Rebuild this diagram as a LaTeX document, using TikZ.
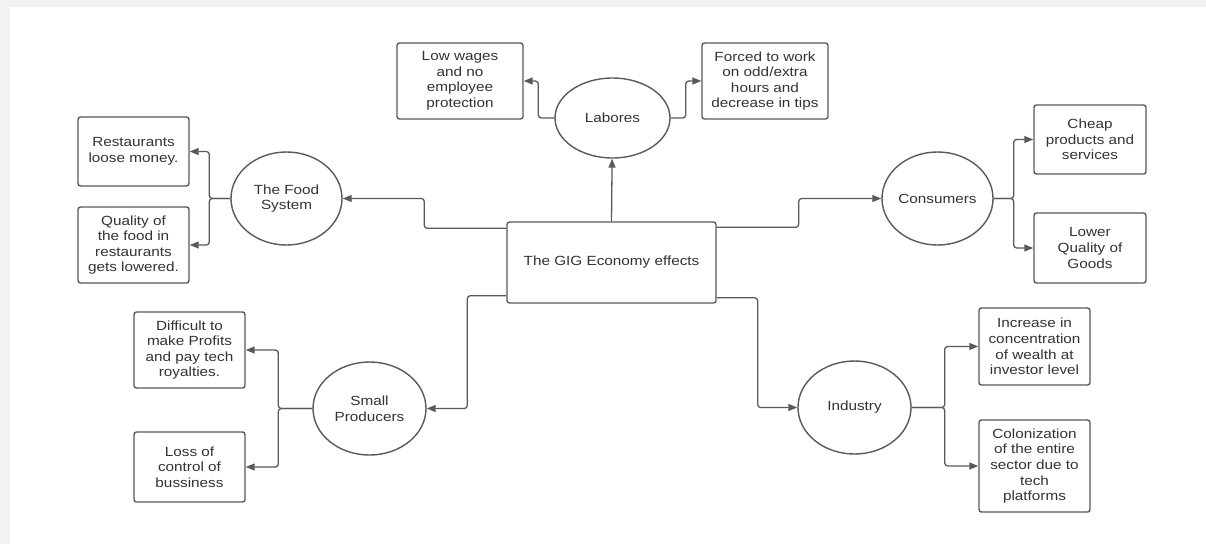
\documentclass[tikz,border=0pt]{standalone}
\usepackage{fontspec}
\setmainfont[FakeStretch=1.15]{Liberation Sans}
\usetikzlibrary{shapes.geometric,arrows.meta}
\definecolor{linegray}{HTML}{5A5A5A}
\definecolor{textgray}{HTML}{333333}
\definecolor{pagegray}{HTML}{F2F2F2}
\tikzset{
  box/.style={draw=linegray,line width=1.4pt,rounded corners=2.5pt,align=center,inner sep=2pt,text=textgray},
  circ/.style={draw=linegray,line width=1.4pt,ellipse,minimum width=113pt,minimum height=93pt,inner sep=0pt,align=center,text=textgray},
  conn/.style={draw=linegray,line width=1.3pt,rounded corners=3pt,-{Triangle[length=9pt,width=7pt]}},
}
\begin{document}
\begin{tikzpicture}[x=1pt,y=-1pt,font=\fontsize{13.3}{15.6}\selectfont]
  \fill[pagegray] (0,0) rectangle (1206,544);
  \fill[white] (10,7) rectangle (1206,544);
  \useasboundingbox (0,0) rectangle (1206,544);
  % centre
  \node[box,minimum width=209pt,minimum height=81pt](NGig) at (611.5,262.5) {The GIG Economy effects};
  % labores
  \node[circ,minimum width=115pt,minimum height=80pt](NLab) at (612.5,118) {Labores};
  \node[box,minimum width=126pt,minimum height=76pt](NLow) at (460,81) {Low wages\\and no\\employee\\protection};
  \node[box,minimum width=126pt,minimum height=76pt](NForced) at (765,81) {Forced to work\\on odd/extra\\hours and\\decrease in tips};
  % food system
  \node[circ,minimum width=111pt](NFood) at (286.5,198.5) {The Food\\System};
  \node[box,minimum width=111pt,minimum height=69pt](NRest) at (133.5,151.5) {Restaurants\\loose money.};
  \node[box,minimum width=111pt,minimum height=76pt](NQual) at (133.5,245) {Quality of\\the food in\\restaurants\\gets lowered.};
  % consumers
  \node[circ,minimum width=111pt](NCons) at (937.5,198.5) {Consumers};
  \node[box,minimum width=112pt,minimum height=69pt](NCheap) at (1090,139.5) {Cheap\\products and\\services};
  \node[box,minimum width=112pt,minimum height=70pt](NLower) at (1090,248) {Lower\\Quality of\\Goods};
  % small producers
  \node[circ](NSmall) at (369.5,408.5) {Small\\Producers};
  \node[box,minimum width=111pt,minimum height=76pt](NDiff) at (189.5,350) {Difficult to\\make Profits\\and pay tech\\royalties.};
  \node[box,minimum width=111pt,minimum height=70pt](NLoss) at (189.5,467) {Loss of\\control of\\bussiness};
  % industry
  \node[circ](NInd) at (854.5,407.5) {Industry};
  \node[box,minimum width=111pt,minimum height=77pt](NIncr) at (1034.5,346.5) {Increase in\\concentration\\of wealth at\\investor level};
  \node[box,minimum width=111pt,minimum height=92pt](NColon) at (1034.5,466) {Colonization\\of the entire\\sector due to\\tech\\platforms};
  % from the centre
  \draw[conn](NGig.north) -- (NLab);
  \draw[conn]([yshift=-7pt]NGig.north west) -- ++(-82,0) |- (NFood);
  \draw[conn]([yshift=-6pt]NGig.north east) -- ++(82,0) |- (NCons);
  \draw[conn]([yshift=8pt]NGig.south west) -- ++(-39,0) |- (NSmall);
  \draw[conn]([yshift=6pt]NGig.south east) -- ++(41,0) |- (NInd);
  % to the effects
  \foreach \p/\d/\q in {NLab/-16/NLow,NFood/-21/NRest,NFood/-21/NQual,NSmall/-34/NDiff,NSmall/-34/NLoss}{
    \draw[conn](\p.west) -- ++(\d,0) |- (\q);
  }
  \foreach \p/\d/\q in {NLab/15/NForced,NCons/20/NCheap,NCons/20/NLower,NInd/33/NIncr,NInd/33/NColon}{
    \draw[conn](\p.east) -- ++(\d,0) |- (\q);
  }
\end{tikzpicture}
\end{document}
